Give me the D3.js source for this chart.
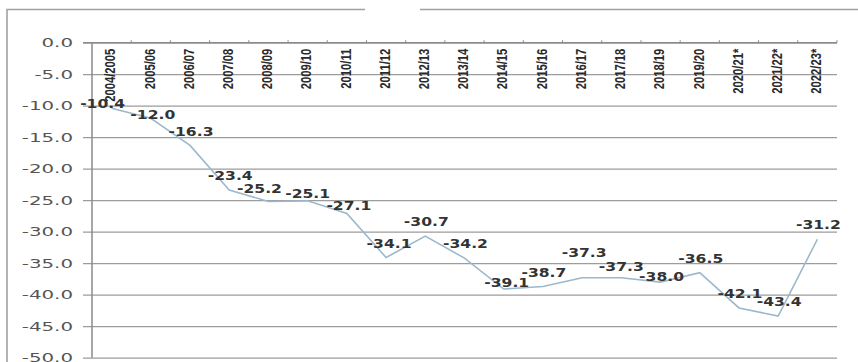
<!DOCTYPE html>
<html>
<head>
<meta charset="utf-8">
<script src="https://cdn.jsdelivr.net/npm/d3@7"></script>
<style>
  body { margin: 0; background: #fff; }
  svg { display: block; }
</style>
</head>
<body>
<script>
// seasons along the top axis
var seasons = ["2004/2005", "2005/06", "2006/07", "2007/08", "2008/09", "2009/10",
               "2010/11", "2011/12", "2012/13", "2013/14", "2014/15", "2015/16",
               "2016/17", "2017/18", "2018/19", "2019/20", "2020/21*", "2021/22*", "2022/23*"];
// values
var values = [-10.4, -12.0, -16.3, -23.4, -25.2, -25.1, -27.1, -34.1, -30.7, -34.2,
              -39.1, -38.7, -37.3, -37.3, -38.0, -36.5, -42.1, -43.4, -31.2];
// y axis tick values
var yTicks = [0, -5, -10, -15, -20, -25, -30, -35, -40, -45, -50];

// label centre offset from its point (px); a few sit differently in the original
var labelDx = 1, labelDy = -14;
var labelTweak = { 0: [-9, -4], 1: [2, -4], 4: [-9, -13], 5: [0, -7], 6: [2, -8], 7: [3, -14],
                   10: [3, -6], 12: [2, -25], 13: [0, -11], 14: [1, -5] };

var fmt = function(d) { return d3.format(".1f")(d).replace("\u2212", "-"); };

var W = 858, H = 362;
var svg = d3.select("body").append("svg").attr("width", W).attr("height", H);

// outer frame (top and left edges only visible)
svg.append("path")
  .attr("d", "M7,362 V9.5 H365 M420,9.5 H858")
  .attr("fill", "none").attr("stroke", "#a0a0a0").attr("stroke-width", 1.6);

var x = d3.scaleBand().domain(seasons).range([92, 837]);
var y = d3.scaleLinear().domain([-50, 0]).range([357.7, 42.7]);

// gridlines + y axis
var yAxis = d3.axisLeft(y).tickValues(yTicks).tickSize(-(837 - 83)).tickPadding(10)
  .tickFormat(fmt);
var gy = svg.append("g").attr("transform", "translate(83,0)").call(yAxis);
gy.select(".domain").remove();
gy.selectAll(".tick line").attr("stroke", "#9c9c9c").attr("stroke-width", 1.3);
gy.selectAll(".tick text")
  .attr("x", 0)
  .attr("transform", "translate(-10,0) scale(1.65,1)")
  .style("font-family", "DejaVu Sans, Verdana, sans-serif")
  .style("font-size", "12px")
  .attr("fill", "#555");

// left vertical axis line
svg.append("line").attr("x1", 92).attr("x2", 92).attr("y1", y(0)).attr("y2", y(-50))
  .attr("stroke", "#8a8a8a").attr("stroke-width", 1.5);

// top category axis
var xAxis = d3.axisTop(x).tickSize(0).tickPadding(0).tickFormat(function(d) { return d; });
var gx = svg.append("g").attr("transform", "translate(0," + y(0) + ")").call(xAxis);
gx.select(".domain").remove();
gx.append("line").attr("x1", 83).attr("x2", 837).attr("stroke", "#8a8a8a").attr("stroke-width", 1.3);
gx.selectAll(".boundary").data(x.domain()).enter().append("line")
  .attr("x1", function(d) { return x(d) + x.bandwidth(); })
  .attr("x2", function(d) { return x(d) + x.bandwidth(); })
  .attr("y1", -2.5).attr("y2", 0).attr("stroke", "#8a8a8a");
gx.selectAll(".tick text")
  .attr("transform", "translate(-1.5,6) rotate(-90) scale(0.75,1)")
  .attr("text-anchor", "end")
  .attr("dy", "0.35em")
  .attr("y", 0)
  .attr("x", 0)
  .style("font-family", "Liberation Sans Narrow, Liberation Sans, Arial, sans-serif")
  .style("font-size", "15px")
  .style("font-weight", "bold")
  .attr("fill", "#2a2a2a");

// the line
var cx = function(d, i) { return x(seasons[i]) + x.bandwidth() / 2; };
var line = d3.line().x(cx).y(function(d) { return y(d); });
svg.append("path").datum(values)
  .attr("d", line)
  .attr("fill", "none")
  .attr("stroke", "#9bb8cd")
  .attr("stroke-width", 1.6);

// data labels
svg.selectAll(".lbl").data(values).enter().append("text")
  .attr("class", "lbl")
  .attr("transform", function(d, i) {
    var t = labelTweak[i] || [labelDx, labelDy];
    return "translate(" + (cx(d, i) + t[0]) + "," + (y(d) + t[1]) + ") scale(1.3,1)";
  })
  .attr("dy", "0.35em")
  .attr("text-anchor", "middle")
  .style("font-family", "DejaVu Sans, Verdana, sans-serif")
  .style("font-size", "12px")
  .style("font-weight", "bold")
  .attr("fill", "#333")
  .text(fmt);
</script>
</body>
</html>
